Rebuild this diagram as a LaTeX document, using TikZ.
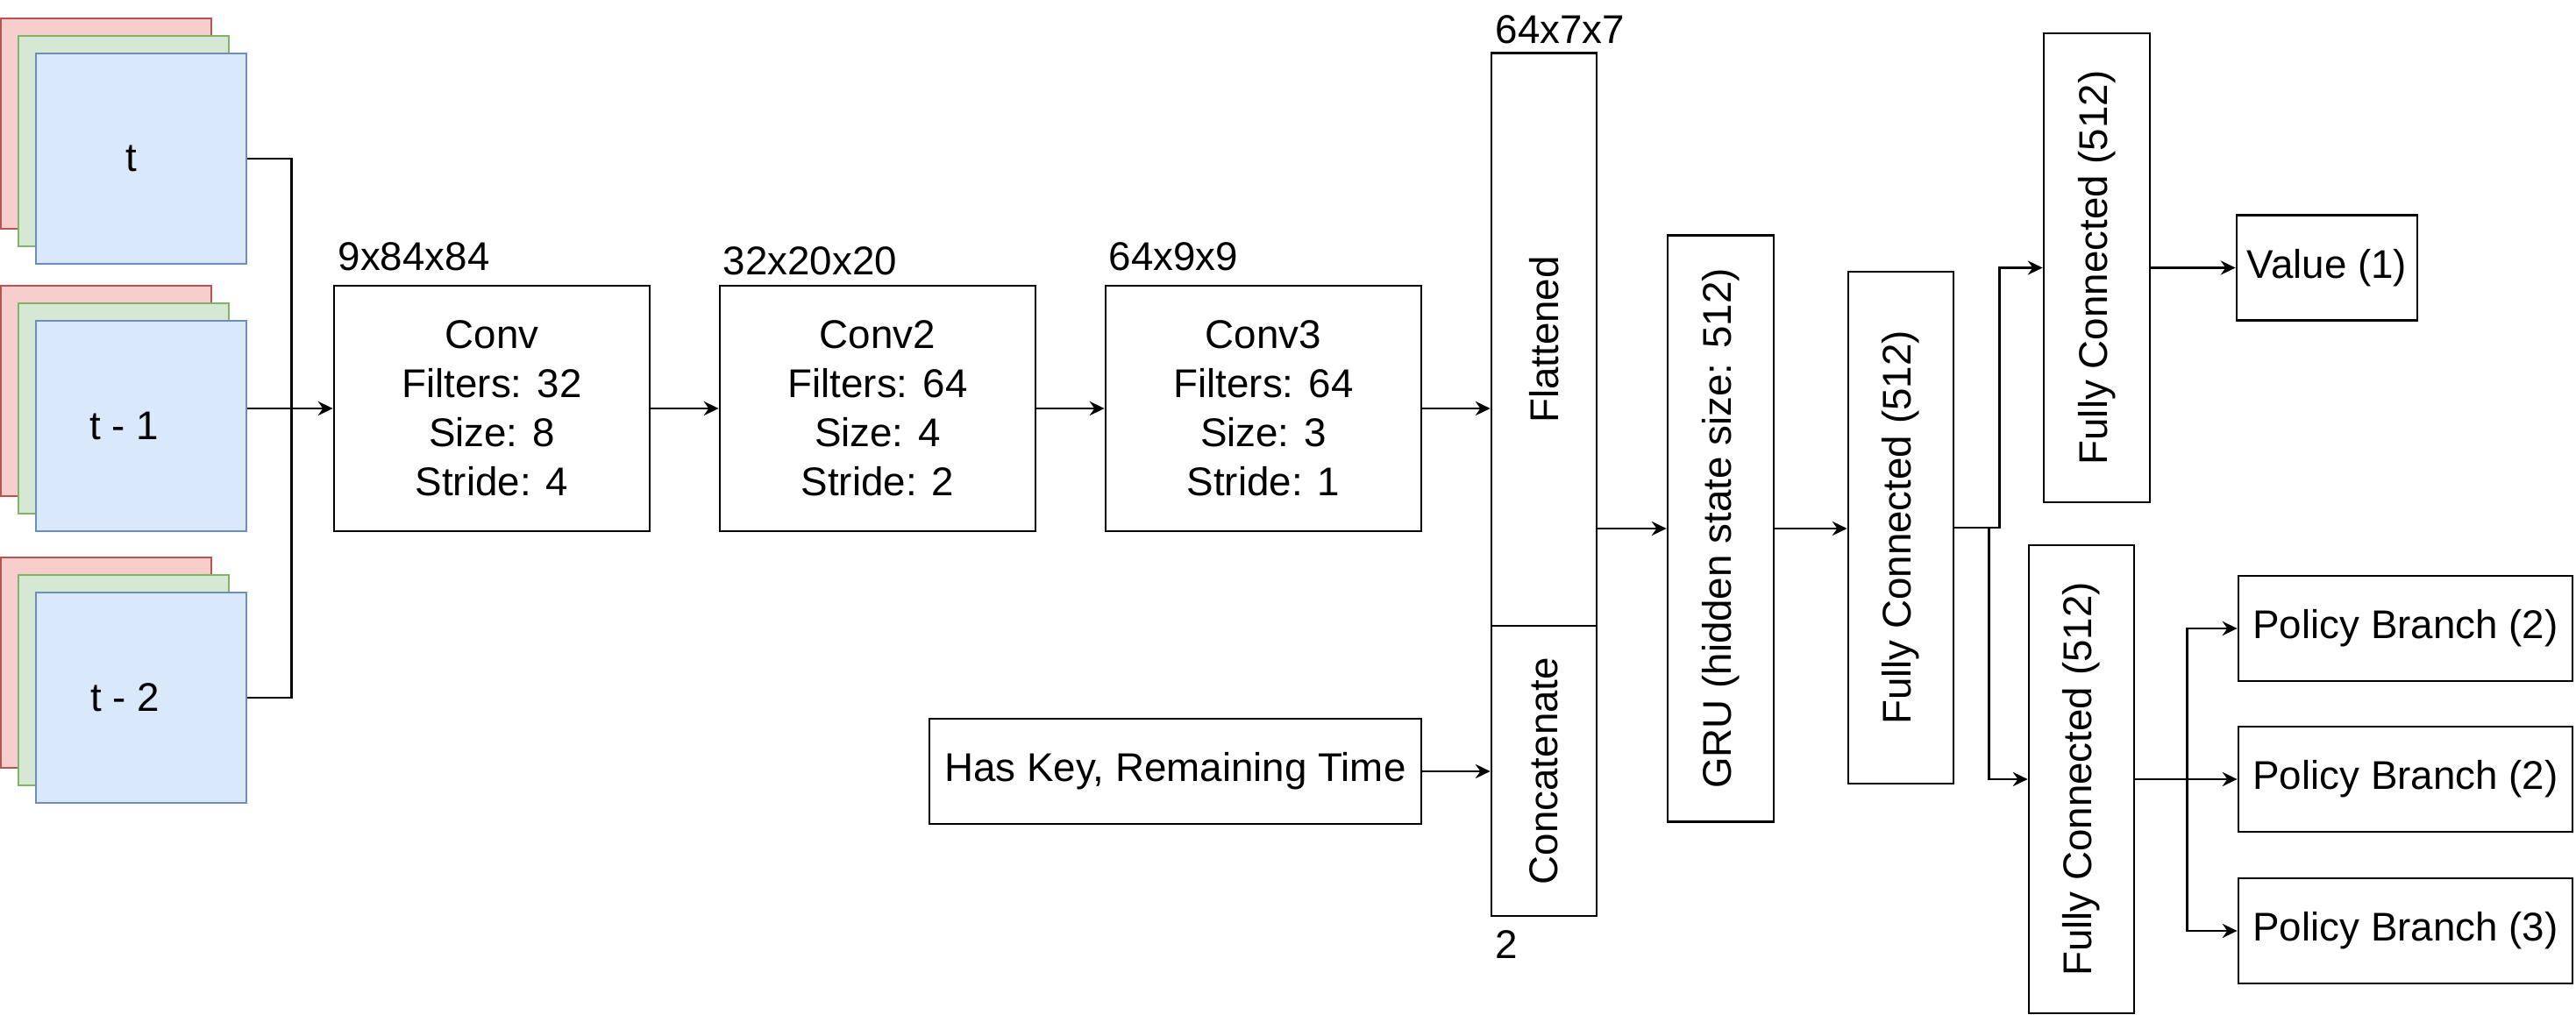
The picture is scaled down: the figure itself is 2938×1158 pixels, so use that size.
\documentclass[tikz,border=0pt]{standalone}
\usepackage{fontspec}
\setmainfont{Liberation Sans}
\usetikzlibrary{arrows.meta}
\definecolor{rfill}{HTML}{F8CECC}\definecolor{rdraw}{HTML}{B85450}
\definecolor{gfill}{HTML}{D5E8D4}\definecolor{gdraw}{HTML}{82B366}
\definecolor{bfill}{HTML}{DAE8FC}\definecolor{bdraw}{HTML}{6C8EBF}
\begin{document}
\begin{tikzpicture}[x=0.01cm,y=-0.01cm,
  every node/.style={font=\fontsize{13pt}{15.9pt}\selectfont, inner sep=0pt},
  box/.style={draw=black, line width=0.75pt, fill=white, align=center},
  frame/.style={line width=0.7pt, minimum width=2.4cm, minimum height=2.4cm},
  redf/.style={frame, draw=rdraw, fill=rfill},
  greenf/.style={frame, draw=gdraw, fill=gfill},
  bluef/.style={frame, draw=bdraw, fill=bfill},
  conn/.style={line width=0.7pt},
  arr/.style={conn, -{Stealth[length=4.8pt, width=4.6pt, inset=1.6pt]}},
  dimlbl/.style={anchor=base west},
  vert/.style={rotate=90}
]
\useasboundingbox (0,0) rectangle (2938,1158);

% input frames
\node[redf] (r0) at (121,141) {};
\node[greenf] (g0) at (141,161) {};
\node[bluef] (t0) at (161,181) {};
\node (lt0) at (150,181) {t};
\node[redf] (r1) at (121,446) {};
\node[greenf] (g1) at (141,466) {};
\node[bluef] (t1) at (161,486) {};
\node (lt1) at (142,486) {t - 1};
\node[redf] (r2) at (121,756) {};
\node[greenf] (g2) at (141,776) {};
\node[bluef] (t2) at (161,796) {};
\node (lt2) at (143,796) {t - 2};

% conv layers
\node[box, minimum width=3.6cm, minimum height=2.8cm] (conv) at (561,466)
  {Conv\\Filters: 32\\Size: 8\\Stride: 4};
\node[box, minimum width=3.6cm, minimum height=2.8cm] (conv2) at (1001,466)
  {Conv2\\Filters: 64\\Size: 4\\Stride: 2};
\node[box, minimum width=3.6cm, minimum height=2.8cm] (conv3) at (1441,466)
  {Conv3\\Filters: 64\\Size: 3\\Stride: 1};
\node[dimlbl] (d1) at (385,309) {9x84x84};
\node[dimlbl] (d2) at (824,314) {32x20x20};
\node[dimlbl] (d3) at (1264,309) {64x9x9};

% flattened / concatenate
\node[box, minimum width=1.2cm, minimum height=6.53cm] (flat) at (1761,387.5) {};
\node[vert] (flatl) at (flat.center) {Flattened};
\node[box, minimum width=1.2cm, minimum height=3.31cm] (cat) at (1761,879.5) {};
\node[vert] (catl) at (cat.center) {Concatenate};
\node[dimlbl] (d4) at (1705,50) {64x7x7};
\node[dimlbl] (d5) at (1705,1093) {2};

\node[box, minimum width=5.61cm, minimum height=1.2cm] (key) at (1340.5,880)
  {Has Key, Remaining Time};

% GRU and FC
\node[box, minimum width=1.21cm, minimum height=6.68cm] (gru) at (1962.5,603) {};
\node[vert] (grul) at (gru.center) {GRU (hidden state size: 512)};
\node[box, minimum width=1.2cm, minimum height=5.84cm] (fc1) at (2168,602) {};
\node[vert] (fc1l) at (fc1.center) {Fully Connected (512)};
\node[box, minimum width=1.21cm, minimum height=5.35cm] (fctop) at (2391.5,305.5) {};
\node[vert] (fctopl) at (fctop.center) {Fully Connected (512)};
\node[box, minimum width=1.2cm, minimum height=5.34cm] (fcbot) at (2374,889) {};
\node[vert] (fcbotl) at (fcbot.center) {Fully Connected (512)};

\node[box, minimum width=2.06cm, minimum height=1.2cm] (val) at (2654,305.5) {Value (1)};
\node[box, minimum width=3.81cm, minimum height=1.2cm] (p1) at (2743.5,717) {Policy Branch (2)};
\node[box, minimum width=3.81cm, minimum height=1.2cm] (p2) at (2743.5,889) {Policy Branch (2)};
\node[box, minimum width=3.81cm, minimum height=1.2cm] (p3) at (2743.5,1062) {Policy Branch (3)};

% connectors
\draw[conn] (t0.east) -- ++(50,0) |- (t2.east);
\draw[arr] (t1.east |- conv.west) -- (conv.west);
\draw[arr] (conv.east) -- (conv2.west);
\draw[arr] (conv2.east) -- (conv3.west);
\draw[arr] (conv3.east) -- (conv3.east -| flat.west);
\draw[arr] (key.east) -- (key.east -| cat.west);
\draw[arr] (flat.east |- gru.west) -- (gru.west);
\draw[arr] (gru.east) -- (gru.east -| fc1.west);
\draw[arr] (fc1.east) -- ++(51,0) |- (fctop.west);
\draw[arr] (fc1.east) -- ++(39,0) |- (fcbot.west);
\draw[arr] (fctop.east) -- (fctop.east -| val.west);
\draw[arr] (fcbot.east) -- ++(59,0) |- (p1.west);
\draw[arr] (fcbot.east) -- (p2.west);
\draw[arr] (fcbot.east) -- ++(59,0) |- (p3.west);
\end{tikzpicture}
\end{document}
